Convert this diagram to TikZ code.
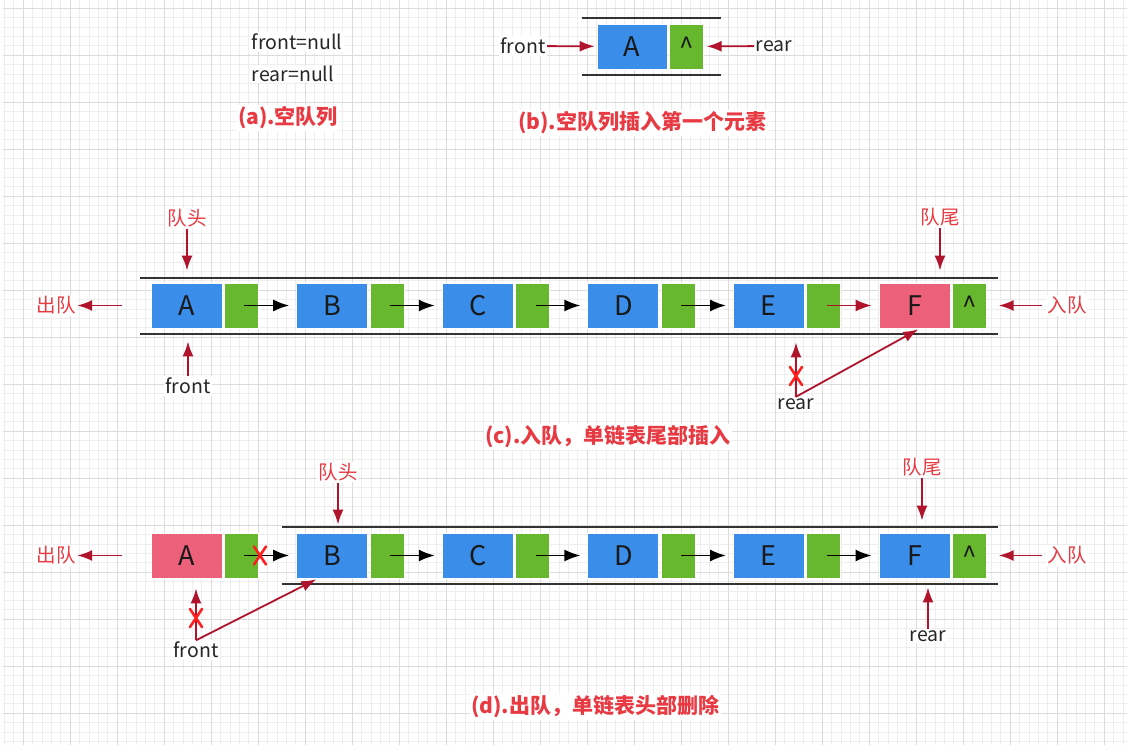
\documentclass[tikz,border=0pt]{standalone}
\usepackage{fontspec}
\setmainfont{Noto Sans CJK SC}
\usetikzlibrary{arrows.meta,positioning}
\definecolor{cellblue}{RGB}{58,141,232}
\definecolor{cellgreen}{RGB}{103,184,46}
\definecolor{cellpink}{RGB}{236,96,122}
\definecolor{ptrred}{RGB}{176,20,45}
\definecolor{capred}{RGB}{232,58,66}
\definecolor{crossred}{RGB}{255,30,30}
\definecolor{gridminor}{RGB}{238,238,238}
\definecolor{gridmajor}{RGB}{220,220,220}

\begin{document}
\begin{tikzpicture}[
  x=1pt, y=-1pt,
  cell/.style = {draw=white, line width=0.8pt, minimum height=45pt, inner sep=0pt, text=black!90},
  datacell/.style = {cell, fill=cellblue, minimum width=71pt, font=\fontsize{27}{27}\selectfont},
  oldcell/.style = {datacell, fill=cellpink},
  nextcell/.style = {cell, fill=cellgreen, minimum width=34pt, font=\fontsize{26}{26}\selectfont},
  lbl/.style = {fill=white, inner sep=1.5pt, text=black!85, font=\fontsize{19.5}{22}\selectfont},
  redlbl/.style = {lbl, text=capred},
  caption/.style = {lbl, text=capred, font=\fontsize{21}{24}\selectfont\bfseries},
  link/.style = {-{Latex[length=16pt,width=12pt]}, line width=1.8pt, shorten >=7pt},
  ptr/.style = {-{Latex[length=15pt,width=11pt]}, line width=1.8pt, draw=ptrred},
  rail/.style = {line width=1.6pt, draw=black!80},
  crossmark/.style = {line width=2.6pt, draw=crossred, line cap=round}
]
  % background grid
  \fill[white] (0,0) rectangle (1132,754);
  \useasboundingbox (0,0) rectangle (1132,754);
  \foreach \i in {0,...,119}
    \draw[gridminor, line width=0.4pt] (4.2+9.4*\i,0) -- (4.2+9.4*\i,745);
  \foreach \j in {0,...,78}
    \draw[gridminor, line width=0.4pt] (3,8+9.4*\j) -- (1127,8+9.4*\j);
  \foreach \i in {0,...,23}
    \draw[gridmajor, line width=0.5pt] (23+47*\i,0) -- (23+47*\i,745);
  \foreach \j in {0,...,15}
    \draw[gridmajor, line width=0.5pt] (3,8+47*\j) -- (1127,8+47*\j);

  % (a) empty queue
  \node[lbl] (aFront) at (297,42) {front=null};
  \node[lbl] (aRear) at (293,74) {rear=null};
  \node[caption] (aCap) at (288,118) {(a).空队列};

  % (b) first element
  \draw[rail] (582,18) -- (721,18);
  \draw[rail] (582,75) -- (721,75);
  \node[datacell, minimum width=70pt] (bA) at (632,46.5) {A};
  \node[nextcell, right=1.5pt of bA] (bA-p) {\textasciicircum};
  \node[lbl] (bFront) at (523,46) {front};
  \node[lbl] (bRear) at (774,46) {rear};
  \draw[ptr, shorten >=2pt] (bFront) -- (bA);
  \draw[ptr, shorten >=3pt] (bRear) -- (bA-p);
  \node[caption] (bCap) at (642,123) {(b).空队列插入第一个元素};

  % (c) enqueue at tail
  \draw[rail] (140,278) -- (998,278);
  \draw[rail] (140,334) -- (998,334);
  \foreach \n/\x in {A/186.5,B/332.1,C/477.7,D/623.3,E/768.9} {
    \node[datacell] (c\n) at (\x,305.5) {\n};
    \node[nextcell, right=1.5pt of c\n] (c\n-p) {};
  }
  \node[oldcell] (cF) at (914.5,305.5) {F};
  \node[nextcell, right=1.5pt of cF] (cF-p) {\textasciicircum};
  \foreach \a/\b in {A/B,B/C,C/D,D/E}
    \draw[link] ([xshift=3pt]c\a-p.center) -- (c\b.west);
  \draw[link, draw=ptrred] ([xshift=3pt]cE-p.center) -- (cF.west);

  \node[redlbl] (cOut) at (56,305.5) {出队};
  \coordinate (cOutTail) at (122,305.5);
  \draw[ptr] (cOutTail) -- (cOut);
  \node[redlbl] (cIn) at (1067,305.5) {入队};
  \draw[ptr, shorten <=4pt, shorten >=12pt] (cIn) -- (cF-p);
  \node[redlbl] (cHead) at (187,218) {队头};
  \draw[ptr, shorten >=12pt] (cHead.south) -- (cHead.south |- cA.north);
  \node[lbl] (cFront) at (188,386) {front};
  \draw[ptr, shorten >=13pt] (cFront.north) -- (cFront.north |- cA.south);
  \node[redlbl] (cTail) at (940,217) {队尾};
  \draw[ptr, shorten >=12pt] (cTail.south) -- (cTail.south |- cF.north);
  \node[lbl] (cRear) at (796,404) {rear};
  \draw[ptr, shorten >=14pt] (cRear.north) -- (cRear.north |- cE.south);
  \draw[ptr, shorten >=2pt] (cRear.north) -- ([xshift=5.5pt]cF.south);
  \coordinate (cX) at (796,376);
  \draw[crossmark] (cX) +(-6,-9) -- +(6,9) +(6,-9) -- +(-6,9);
  \node[caption] (cCap) at (608,437) {(c).入队，单链表尾部插入};

  % (d) dequeue at head
  \draw[rail] (282,527) -- (998,527);
  \draw[rail] (282,584) -- (998,584);
  \node[oldcell] (dA) at (186.5,555.5) {A};
  \node[nextcell, right=1.5pt of dA] (dA-p) {};
  \foreach \n/\x in {B/332.1,C/477.7,D/623.3,E/768.9} {
    \node[datacell] (d\n) at (\x,555.5) {\n};
    \node[nextcell, right=1.5pt of d\n] (d\n-p) {};
  }
  \node[datacell] (dF) at (914.5,555.5) {F};
  \node[nextcell, right=1.5pt of dF] (dF-p) {\textasciicircum};
  \foreach \a/\b in {A/B,B/C,C/D,D/E,E/F}
    \draw[link] ([xshift=3pt]d\a-p.center) -- (d\b.west);
  \coordinate (dLinkX) at (260,555.5);
  \draw[crossmark] (dLinkX) +(-6,-9) -- +(6,9) +(6,-9) -- +(-6,9);

  \node[redlbl] (dOut) at (56,555.5) {出队};
  \coordinate (dOutTail) at (122,555.5);
  \draw[ptr] (dOutTail) -- (dOut);
  \node[redlbl] (dIn) at (1067,555.5) {入队};
  \draw[ptr, shorten <=4pt, shorten >=12pt] (dIn) -- (dF-p);
  \node[redlbl] (dHead) at (338,472) {队头};
  \draw[ptr, shorten >=8pt] (dHead.south) -- (dHead.south |- dB.north);
  \node[lbl] (dFront) at (196,650) {front};
  \draw[ptr, shorten >=10pt] (dFront.north) -- (dFront.north |- dA.south);
  \draw[ptr, shorten >=2pt] (dFront.north) -- ([xshift=-14pt]dB.south);
  \coordinate (dX) at (196,618);
  \draw[crossmark] (dX) +(-6,-9) -- +(6,9) +(6,-9) -- +(-6,9);
  \node[redlbl] (dTail) at (922,467) {队尾};
  \draw[ptr, shorten >=12pt] (dTail.south) -- (dTail.south |- dF.north);
  \node[lbl] (dRear) at (928,636) {rear};
  \draw[ptr, shorten >=9pt] (dRear.north) -- (dRear.north |- dF.south);
  \node[caption] (dCap) at (595,707) {(d).出队，单链表头部删除};
\end{tikzpicture}
\end{document}
